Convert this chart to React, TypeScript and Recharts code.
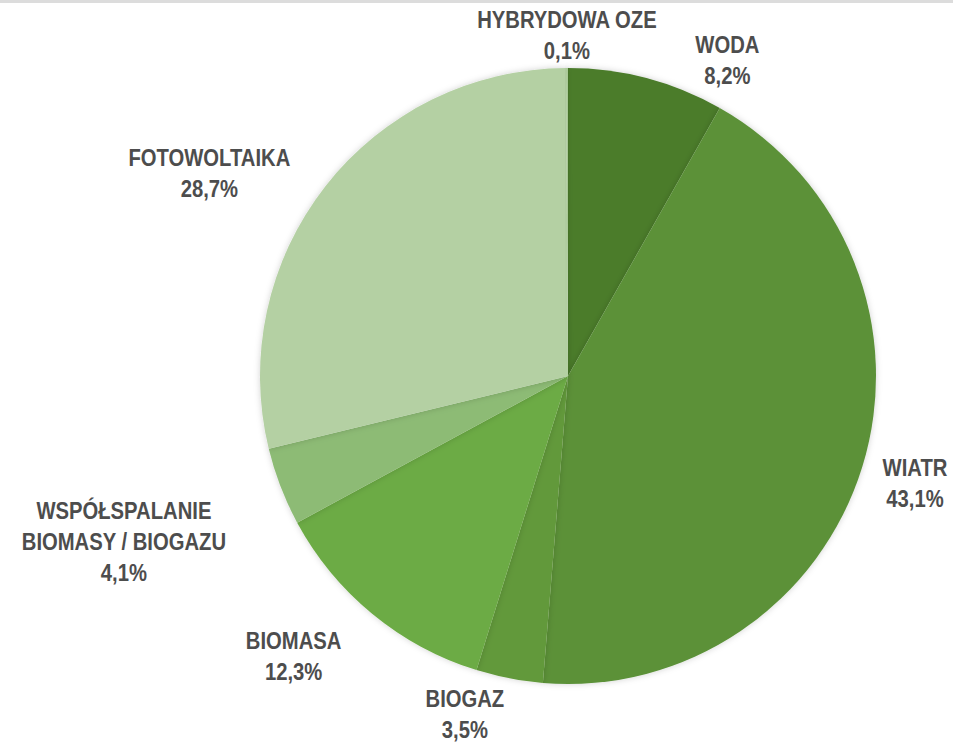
import { PieChart, Pie, Cell } from 'recharts';

const names = [
  ['WODA'],
  ['WIATR'],
  ['BIOGAZ'],
  ['BIOMASA'],
  ['WSPÓŁSPALANIE', 'BIOMASY / BIOGAZU'],
  ['FOTOWOLTAIKA'],
  ['HYBRYDOWA OZE'],
];
const shares = [8.2, 43.1, 3.5, 12.3, 4.1, 28.7, 0.1];
const colors = ['#4b7b2c', '#5b9139', '#62993b', '#6cab44', '#8dbb75', '#b4d0a3', '#a9c996'];

// label placement: extra distance beyond the rim and angle nudge (degrees)
const labelLayout = [
  { dr: 46, da: -12 },
  { dr: 55, da: 0 },
  { dr: 45, da: -6 },
  { dr: 84, da: -5 },
  { dr: 166, da: -0.6 },
  { dr: 104, da: 8.5 },
  { dr: 33, da: 0 },
];

const data = names.map((n, i) => ({ name: n.join(' '), lines: n, value: shares[i] }));

const RAD = Math.PI / 180;

const renderLabel = (props: any) => {
  const { cx, cy, midAngle, outerRadius, index } = props;
  const lay = labelLayout[index];
  const a = (midAngle + lay.da) * RAD;
  const r = outerRadius + lay.dr;
  const x = cx + r * Math.cos(a);
  const y = cy - r * Math.sin(a);
  const lines = [...data[index].lines, shares[index].toFixed(1).replace('.', ',') + '%'];
  const lh = 31;
  const top = y - ((lines.length - 1) * lh) / 2;
  // narrow the glyphs a little, like the condensed face in the original
  return (
    <text
      key={index}
      x={x}
      y={top}
      transform={`translate(${x} 0) scale(0.88 1) translate(${-x} 0)`}
      textAnchor="middle"
      dominantBaseline="central"
      fill="#4d4d4d"
      fontSize={23}
      fontWeight="bold"
      fontFamily="'Liberation Sans', Arial, sans-serif"
    >
      {lines.map((l, j) => (
        <tspan key={j} x={x} dy={j === 0 ? 0 : lh}>
          {l}
        </tspan>
      ))}
    </text>
  );
};

export default function App() {
  return (
    <div style={{ position: 'absolute', left: 0, top: 0, width: 953, height: 743, background: '#fff' }}>
      <div style={{ position: 'absolute', left: 0, top: 0, width: 953, height: 3, background: '#dcdcdc' }} />
      <PieChart width={953} height={743}>
        <defs>
          <filter id="pieShadow" x="-10%" y="-10%" width="120%" height="120%">
            <feDropShadow dx="0" dy="0" stdDeviation="3" floodColor="#000" floodOpacity="0.18" />
          </filter>
        </defs>
        <Pie
          data={data}
          dataKey="value"
          nameKey="name"
          cx={563}
          cy={371}
          outerRadius={308}
          startAngle={90}
          endAngle={-270}
          stroke="none"
          labelLine={false}
          label={renderLabel}
          isAnimationActive={false}
          style={{ filter: 'url(#pieShadow)' }}
        >
          {data.map((d, i) => (
            <Cell key={d.name} fill={colors[i]} />
          ))}
        </Pie>
      </PieChart>
    </div>
  );
}
